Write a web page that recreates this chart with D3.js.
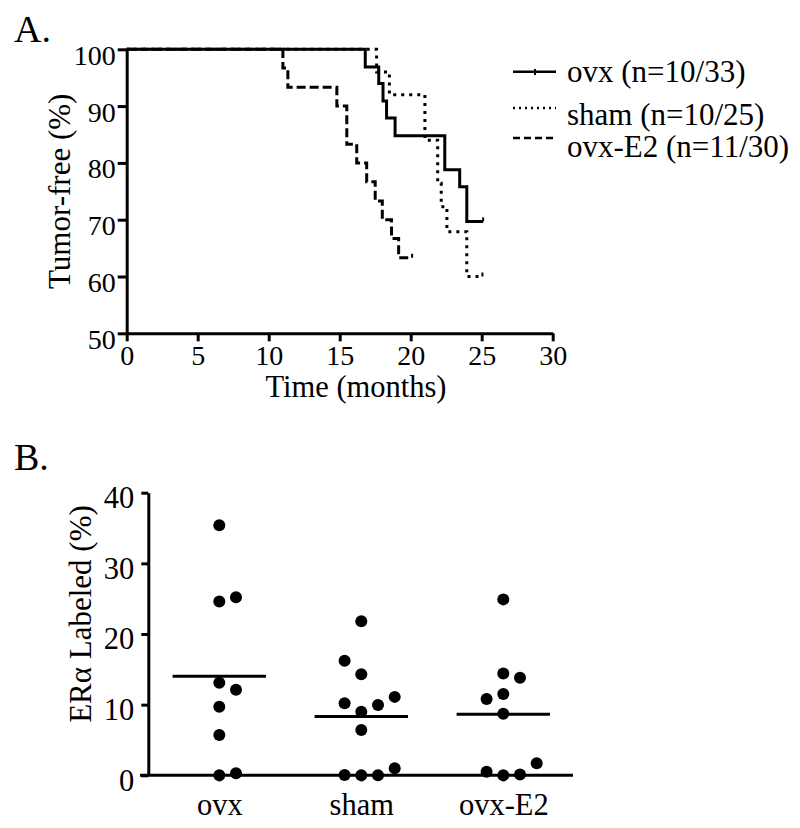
<!DOCTYPE html>
<html>
<head>
<meta charset="utf-8">
<script src="https://cdn.jsdelivr.net/npm/d3@7"></script>
<style>
  html, body { margin: 0; padding: 0; background: #fff; }
  svg { display: block; }
  text { font-family: "Liberation Serif", "Times New Roman", serif; fill: #000; }
</style>
</head>
<body>
<svg id="chart" width="800" height="828"></svg>
<script>
// ---------- Panel A data (Kaplan-Meier step curves) ----------
const seriesNames = ["ovx (n=10/33)", "sham (n=10/25)", "ovx-E2 (n=11/30)"];
const ovxTime  = [0, 16.8, 17.75, 18.05, 18.3, 18.9, 22.4, 23.45, 23.95];
const ovxSurv  = [100, 96.9, 94.0, 90.9, 87.9, 84.8, 78.8, 75.8, 69.7];
const ovxEnd   = 25.1;
const shamTime = [0, 17.6, 18.5, 21.0, 21.9, 22.15, 22.55, 23.95];
const shamSurv = [100, 96.0, 92.0, 84.0, 76.4, 72.3, 67.9, 60.0];
const shamEnd  = 25.05;
const e2Time   = [0, 11.0, 11.35, 14.8, 15.5, 16.2, 16.9, 17.5, 18.0, 18.65, 19.15];
const e2Surv   = [100, 96.7, 93.3, 90.0, 83.3, 80.0, 76.7, 73.3, 70.0, 66.7, 63.3];
const e2End    = 20.1;
const timeTicks = [0, 5, 10, 15, 20, 25, 30];
const survTicks = [50, 60, 70, 80, 90, 100];

// ---------- Panel B data (dot plot) ----------
const groups = ["ovx", "sham", "ovx-E2"];
const ovxEra  = [35.4, 24.6, 25.2, 13.1, 12.1, 9.7, 5.7, 0.0, 0.3];
const ovxCol  = [0, 0, 1, 0, 1, 0, 0, 0, 1];
const shamEra = [21.8, 16.2, 14.3, 10.2, 9.0, 9.95, 11.1, 6.4, 0.05, 0.0, 0.0, 1.0];
const shamCol = [0, -1, 0, -1, 0, 1, 2, 0, -1, 0, 1, 2];
const e2Era   = [24.9, 14.4, 13.8, 11.5, 10.8, 8.7, 0.5, 0.0, 0.1, 1.7];
const e2Col   = [0, 0, 1, 0, -1, 0, -1, 0, 1, 2];
const eraTicks = [0, 10, 20, 30, 40];

// ---------- build ----------
const svg = d3.select("#chart");
const AXW = 3;

// Panel A
const xA = d3.scaleLinear().domain([0, 30]).range([126.7, 552.7]);
const yA = d3.scaleLinear().domain([50, 100]).range([333.3, 49.3]);

svg.append("text").attr("x", 14).attr("y", 42).attr("font-size", 38).text("A.");

const gAy = svg.append("g").attr("transform", `translate(${xA(0)},0)`)
  .call(d3.axisLeft(yA).tickValues(survTicks).tickSize(9).tickPadding(2).tickSizeOuter(0));
const gAx = svg.append("g").attr("transform", `translate(0,${yA(50)})`)
  .call(d3.axisBottom(xA).tickValues(timeTicks).tickSize(8).tickPadding(4).tickSizeOuter(0));
[gAy, gAx].forEach(g => {
  g.select(".domain").attr("stroke", "#000").attr("stroke-width", AXW);
  g.selectAll(".tick line").attr("stroke", "#000").attr("stroke-width", AXW);
  g.selectAll(".tick text").attr("font-size", 28).attr("font-family", '"Liberation Serif", serif').attr("fill", "#000");
});
gAy.selectAll(".tick text").attr("y", 6);

svg.append("text")
  .attr("transform", `translate(70,${(yA(50) + yA(100)) / 2}) rotate(-90)`)
  .attr("text-anchor", "middle").attr("font-size", 31).text("Tumor-free (%)");
svg.append("text").attr("x", 356).attr("y", 397).attr("text-anchor", "middle")
  .attr("font-size", 30.5).text("Time (months)");

const seriesA = [
  { t: e2Time, s: e2Surv, end: e2End, dash: "9,4" },
  { t: shamTime, s: shamSurv, end: shamEnd, dash: "3,5" },
  { t: ovxTime, s: ovxSurv, end: ovxEnd, dash: null }
];
const stepLine = d3.line().x(d => xA(d[0])).y(d => yA(d[1])).curve(d3.curveStepAfter);
seriesA.forEach(sr => {
  const pts = sr.t.map((t, i) => [t, sr.s[i]]);
  pts.push([sr.end, sr.s[sr.s.length - 1]]);
  svg.append("path").datum(pts).attr("d", stepLine)
    .attr("fill", "none").attr("stroke", "#000").attr("stroke-width", 3)
    .attr("stroke-dasharray", sr.dash);
  const last = sr.s[sr.s.length - 1];
  svg.append("line").attr("x1", xA(sr.end)).attr("x2", xA(sr.end))
    .attr("y1", yA(last)).attr("y2", yA(last) - 4)
    .attr("stroke", "#000").attr("stroke-width", 2);
});

// legend
const legStyles = [null, "2,4", "7,4"];
const legY = [71.7, 108, 138];
const legTextY = [82, 125, 157];
seriesNames.forEach((name, i) => {
  svg.append("line").attr("x1", 513).attr("x2", 556).attr("y1", legY[i]).attr("y2", legY[i])
    .attr("stroke", "#000").attr("stroke-width", 2.5).attr("stroke-dasharray", legStyles[i]);
  svg.append("text").attr("x", 567).attr("y", legTextY[i]).attr("font-size", 31).text(name);
});
svg.append("line").attr("x1", 535).attr("x2", 535).attr("y1", 69).attr("y2", 75)
  .attr("stroke", "#000").attr("stroke-width", 2);

// Panel B
const xB = d3.scalePoint().domain(groups).range([219.3, 503.3]);
const yB = d3.scaleLinear().domain([0, 40]).range([775.3, 492.7]);
const slot = 16.7, rDot = 6;

svg.append("text").attr("x", 14).attr("y", 470).attr("font-size", 38).text("B.");

svg.append("line").attr("x1", 140).attr("x2", 573).attr("y1", yB(0)).attr("y2", yB(0))
  .attr("stroke", "#000").attr("stroke-width", AXW);
const gBy = svg.append("g").attr("transform", `translate(148.3,0)`)
  .call(d3.axisLeft(yB).tickValues(eraTicks).tickSize(7).tickPadding(7).tickSizeOuter(0));
const gBx = svg.append("g").attr("transform", `translate(0,${yB(0)})`)
  .call(d3.axisBottom(xB).tickSize(6).tickPadding(12).tickSizeOuter(0));
gBx.select(".domain").remove();
[gBy, gBx].forEach(g => {
  g.select(".domain").attr("stroke", "#000").attr("stroke-width", AXW);
  g.selectAll(".tick line").attr("stroke", "#000").attr("stroke-width", AXW);
  g.selectAll(".tick text").attr("font-size", 30.5).attr("font-family", '"Liberation Serif", serif').attr("fill", "#000");
});
gBy.selectAll(".tick text").attr("y", 5);

svg.append("text")
  .attr("transform", `translate(91,${(yB(0) + yB(40)) / 2 - 20}) rotate(-90)`)
  .attr("text-anchor", "middle").attr("font-size", 31).text("ERα Labeled (%)");

const dotGroups = [
  { g: "ovx", v: ovxEra, c: ovxCol },
  { g: "sham", v: shamEra, c: shamCol },
  { g: "ovx-E2", v: e2Era, c: e2Col }
];
dotGroups.forEach(dg => {
  const cx = xB(dg.g);
  svg.append("g").selectAll("circle").data(dg.v).join("circle")
    .attr("cx", (d, i) => cx + dg.c[i] * slot)
    .attr("cy", d => yB(d))
    .attr("r", rDot).attr("fill", "#000");
  const m = d3.mean(dg.v);
  svg.append("line").attr("x1", cx - 46.7).attr("x2", cx + 46.7)
    .attr("y1", yB(m)).attr("y2", yB(m))
    .attr("stroke", "#000").attr("stroke-width", 3);
});
</script>
</body>
</html>
